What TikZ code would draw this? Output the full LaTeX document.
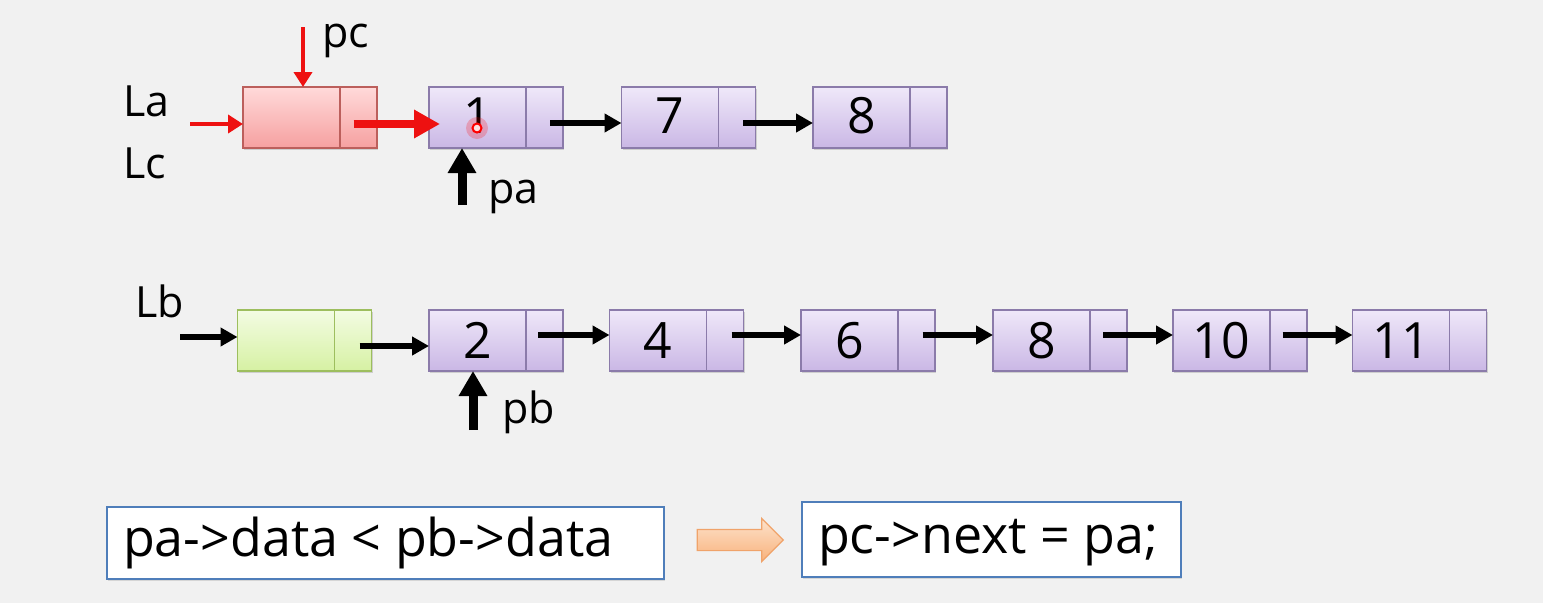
\documentclass[tikz,border=0pt]{standalone}
\usepackage{fontspec}
\setmainfont{Open Sans}
\usetikzlibrary{arrows.meta,shapes.arrows,shadows}
\definecolor{bgc}{HTML}{F1F1F1}
\definecolor{purptop}{HTML}{EFE8F9}
\definecolor{purpbot}{HTML}{CAB7E5}
\definecolor{purpbd}{HTML}{8B7BAA}
\definecolor{redtop}{HTML}{FFDADA}
\definecolor{redbot}{HTML}{F6A0A0}
\definecolor{redbd}{HTML}{BC5F5C}
\definecolor{grntop}{HTML}{F3FCE3}
\definecolor{grnbot}{HTML}{D6F1A3}
\definecolor{grnbd}{HTML}{9DBE5E}
\definecolor{boxbd}{HTML}{4F7EBA}
\definecolor{orgtop}{HTML}{FDE2CB}
\definecolor{orgbot}{HTML}{F8B27C}
\definecolor{orgbd}{HTML}{F0A36A}
\definecolor{arrred}{HTML}{EE1111}
\begin{document}
\begin{tikzpicture}[x=1pt,y=-1pt,
  cell/.style={draw, line width=1.8pt, minimum height=61pt, inner sep=0pt, outer sep=0pt,
    font=\fontsize{50}{56}\selectfont,
    drop shadow={shadow xshift=1pt, shadow yshift=-2pt, opacity=.25, fill=black!60}},
  datacell/.style={cell, minimum width=97pt},
  ptrcell/.style={cell, minimum width=37pt, anchor=west},
  purp/.style={draw=purpbd, top color=purptop, bottom color=purpbot},
  redc/.style={draw=redbd, top color=redtop, bottom color=redbot},
  grnc/.style={draw=grnbd, top color=grntop, bottom color=grnbot},
  lbl/.style={font=\fontsize{43}{50}\selectfont, inner sep=0pt, anchor=base west},
  link/.style={draw=black, line width=5.5pt, -{Triangle[length=17pt,width=18pt]}},
  ptrarrow/.style={draw=black, line width=9pt, -{Triangle[length=25pt,width=27pt]}},
  redthin/.style={draw=arrred, line width=4.5pt, -{Triangle[length=15pt,width=18pt]}},
  redthick/.style={draw=arrred, line width=8.5pt, -{Triangle[length=26pt,width=27pt]}},
  codebox/.style={draw=boxbd, line width=2.5pt, fill=white, inner xsep=16pt, inner ysep=0pt,
    font=\fontsize{52}{58}\selectfont, text height=39pt, text depth=12pt,
    drop shadow={shadow xshift=1pt, shadow yshift=-2pt, opacity=.2, fill=black!60}}
]
\useasboundingbox (0,0) rectangle (1543,603);
\fill[bgc] (0,0) rectangle (1543,603);

% ---------- top list (La / Lc) ----------
\node[datacell, redc] (rh) at (291.5,117.5) {};
\node[ptrcell, redc] (rp) at (rh.east) {};
\node[datacell, purp] (n1) at (477.5,117.5) {\raisebox{4pt}{1}};
\node[ptrcell, purp] (p1) at (n1.east) {};
\node[datacell, purp] (n7) at (670,117.5) {\raisebox{4pt}{7}};
\node[ptrcell, purp] (p7) at (n7.east) {};
\node[datacell, purp] (n8t) at (861.5,117.5) {\raisebox{4pt}{8}};
\node[ptrcell, purp] (p8t) at (n8t.east) {};

% ---------- bottom list (Lb) ----------
\node[datacell, grnc] (gh) at (286,340.5) {};
\node[ptrcell, grnc] (gp) at (gh.east) {};
\node[datacell, purp] (n2) at (477.5,340.5) {2};
\node[ptrcell, purp] (p2) at (n2.east) {};
\node[datacell, purp] (n4) at (658,340.5) {4};
\node[ptrcell, purp] (p4) at (n4.east) {};
\node[datacell, purp] (n6) at (849.5,340.5) {6};
\node[ptrcell, purp] (p6) at (n6.east) {};
\node[datacell, purp] (n8b) at (1041.5,340.5) {8};
\node[ptrcell, purp] (p8b) at (n8b.east) {};
\node[datacell, purp] (n10) at (1221.5,340.5) {10};
\node[ptrcell, purp] (p10) at (n10.east) {};
\node[datacell, purp] (n11) at (1401,340.5) {11};
\node[ptrcell, purp] (p11) at (n11.east) {};

% ---------- labels ----------
\node[lbl] (La) at (123,116) {La};
\node[lbl] (Lc) at (123,178) {Lc};
\node[lbl] (pc) at (322,47) {pc};
\node[lbl] (pa) at (488,203) {pa};
\node[lbl] (Lb) at (135,317) {Lb};
\node[lbl] (pb) at (502,423) {pb};

% ---------- free ends ----------
\coordinate (laS) at (190,124);
\coordinate (pcS) at (303,27);
\coordinate (paS) at (462,205);
\coordinate (lbS) at (180,337);
\coordinate (pbS) at (473,430);

% ---------- top connectors ----------
\draw[redthin] (laS) -- ([yshift=-6.5pt]rh.west);
\draw[redthin] (pcS) -- (pcS |- rh.north);
\draw[redthick] ([xshift=-5pt,yshift=-6.5pt]rp.center) -- ([xshift=11pt,yshift=-6.5pt]n1.west);
\draw[link] ([xshift=5.5pt,yshift=-5.5pt]p1.center) -- ([yshift=-5.5pt]n7.west);
\draw[link] ([xshift=6pt,yshift=-5.5pt]p7.center) -- ([yshift=-5.5pt]n8t.west);
\draw[ptrarrow] (paS) -- (paS |- n1.south);

% highlight dot
\coordinate (dot) at (477,128);
\fill[red, opacity=.22] (dot) circle (11pt);
\draw[red, line width=2pt, fill=red!12] (dot) circle (4.5pt);

% ---------- bottom connectors ----------
\draw[link] (lbS) -- ([yshift=3.5pt]gh.west);
\draw[link] ([xshift=6.5pt,yshift=-5.5pt]gp.center) -- ([yshift=-5.5pt]n2.west);
\draw[link] ([xshift=-6.5pt,yshift=5.5pt]p2.center) -- ([yshift=5.5pt]n4.west);
\draw[link] ([xshift=6.5pt,yshift=5.5pt]p4.center) -- ([yshift=5.5pt]n6.west);
\draw[link] ([xshift=6pt,yshift=5.5pt]p6.center) -- ([yshift=5.5pt]n8b.west);
\draw[link] ([xshift=-5.5pt,yshift=5.5pt]p8b.center) -- ([yshift=5.5pt]n10.west);
\draw[link] ([xshift=-6pt,yshift=5.5pt]p10.center) -- ([yshift=5.5pt]n11.west);
\draw[ptrarrow] (pbS) -- (pbS |- n2.south);

% ---------- code boxes ----------
\node[codebox, minimum width=557pt, minimum height=72pt] (cond) at (385.5,543) {\makebox[525pt][l]{pa->data < pb->data}};
\node[single arrow, draw=orgbd, line width=1.2pt, top color=orgtop, bottom color=orgbot,
      minimum height=86pt, inner sep=10pt, single arrow head extend=11pt,
      single arrow tip angle=90, shape border rotate=0] (then) at (735,540) {};
\node[codebox, minimum width=379pt, minimum height=75pt] (act) at (991.5,539.5) {\makebox[347pt][l]{pc->next = pa;}};
\end{tikzpicture}
\end{document}
